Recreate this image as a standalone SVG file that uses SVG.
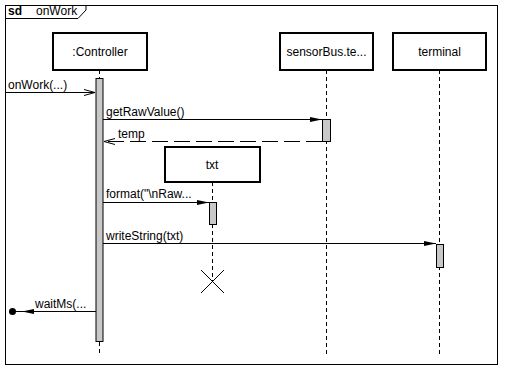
<svg xmlns="http://www.w3.org/2000/svg" width="506" height="372" viewBox="0 0 506 372">
<style>
text{font-family:"Liberation Sans",Arial,sans-serif;font-size:12px;fill:#000}
.box{fill:#fff;stroke:#000;stroke-width:2}
.act{fill:#c8c8c8;stroke:#000;stroke-width:1}
.life{stroke:#000;stroke-width:1;stroke-dasharray:4,3;fill:none}
.msg{stroke:#000;stroke-width:1;fill:none}
.ret{stroke:#000;stroke-width:1;fill:none;stroke-dasharray:16,6}
</style>
<defs>
<marker id="filled" markerWidth="12" markerHeight="6" refX="12" refY="3" orient="auto" markerUnits="userSpaceOnUse">
<path d="M0,0.5 L12,3 L0,5.5 Z" fill="#000"/>
</marker>
<marker id="open" markerWidth="12" markerHeight="8" refX="11" refY="4" orient="auto" markerUnits="userSpaceOnUse">
<path d="M0,1 L11,4 L0,7" fill="none" stroke="#000"/>
</marker>
</defs>
<rect x="5.5" y="5.5" width="492" height="359" fill="#fff" stroke="#000"/>
<path d="M5.5,18.5 L78,18.5 L86,10 L86,5.5" fill="none" stroke="#000"/>
<text x="8" y="15" font-weight="bold">sd</text>
<text x="36" y="15">onWork</text>

<g id="controller">
<rect class="box" x="53" y="33" width="94" height="37"/>
<text x="100" y="56" text-anchor="middle">:Controller</text>
<line class="life" x1="99.5" y1="70" x2="99.5" y2="78"/>
<line class="life" x1="99.5" y1="342" x2="99.5" y2="354"/>
<rect class="act" x="96" y="78.5" width="7" height="263"/>
</g>
<g id="sensorBus">
<rect class="box" x="280" y="33" width="93" height="37"/>
<text x="326.5" y="56" text-anchor="middle">sensorBus.te...</text>
<line class="life" x1="326.5" y1="70" x2="326.5" y2="354"/>
<rect class="act" x="322.5" y="119.5" width="8" height="22"/>
</g>
<g id="terminal">
<rect class="box" x="393" y="33" width="93" height="37"/>
<text x="439.5" y="56" text-anchor="middle">terminal</text>
<line class="life" x1="439.5" y1="70" x2="439.5" y2="354"/>
<rect class="act" x="436.5" y="244.5" width="7" height="23"/>
</g>
<g id="txt">
<rect class="box" x="165" y="147" width="95" height="35"/>
<text x="212" y="169" text-anchor="middle">txt</text>
<line class="life" x1="212.5" y1="182" x2="212.5" y2="281"/>
<rect class="act" x="209.5" y="202.5" width="7" height="22"/>
<path d="M201,270 L224,293 M224,270 L201,293" stroke="#000" stroke-width="1"/>
</g>
<g id="connectors">
<line class="msg" x1="5" y1="92.5" x2="95" y2="92.5" marker-end="url(#open)"/>
<text x="8" y="89">onWork(...)</text>
<line class="msg" x1="103" y1="119.5" x2="322" y2="119.5" marker-end="url(#filled)"/>
<text x="106" y="116">getRawValue()</text>
<line class="ret" x1="322" y1="141.5" x2="104" y2="141.5" marker-end="url(#open)"/>
<text x="118" y="138">temp</text>
<line class="msg" x1="103" y1="202.5" x2="209" y2="202.5" marker-end="url(#filled)"/>
<text x="106" y="198">format("\nRaw...</text>
<line class="msg" x1="103" y1="243.5" x2="436" y2="243.5" marker-end="url(#filled)"/>
<text x="106" y="240">writeString(txt)</text>
<line class="msg" x1="96" y1="311.5" x2="22" y2="311.5" marker-end="url(#filled)"/>
<line class="msg" x1="22" y1="311.5" x2="12" y2="311.5"/>
<circle cx="12.5" cy="311.5" r="3.5" fill="#000"/>
<text x="35" y="308">waitMs(...</text>
</g>
</svg>
